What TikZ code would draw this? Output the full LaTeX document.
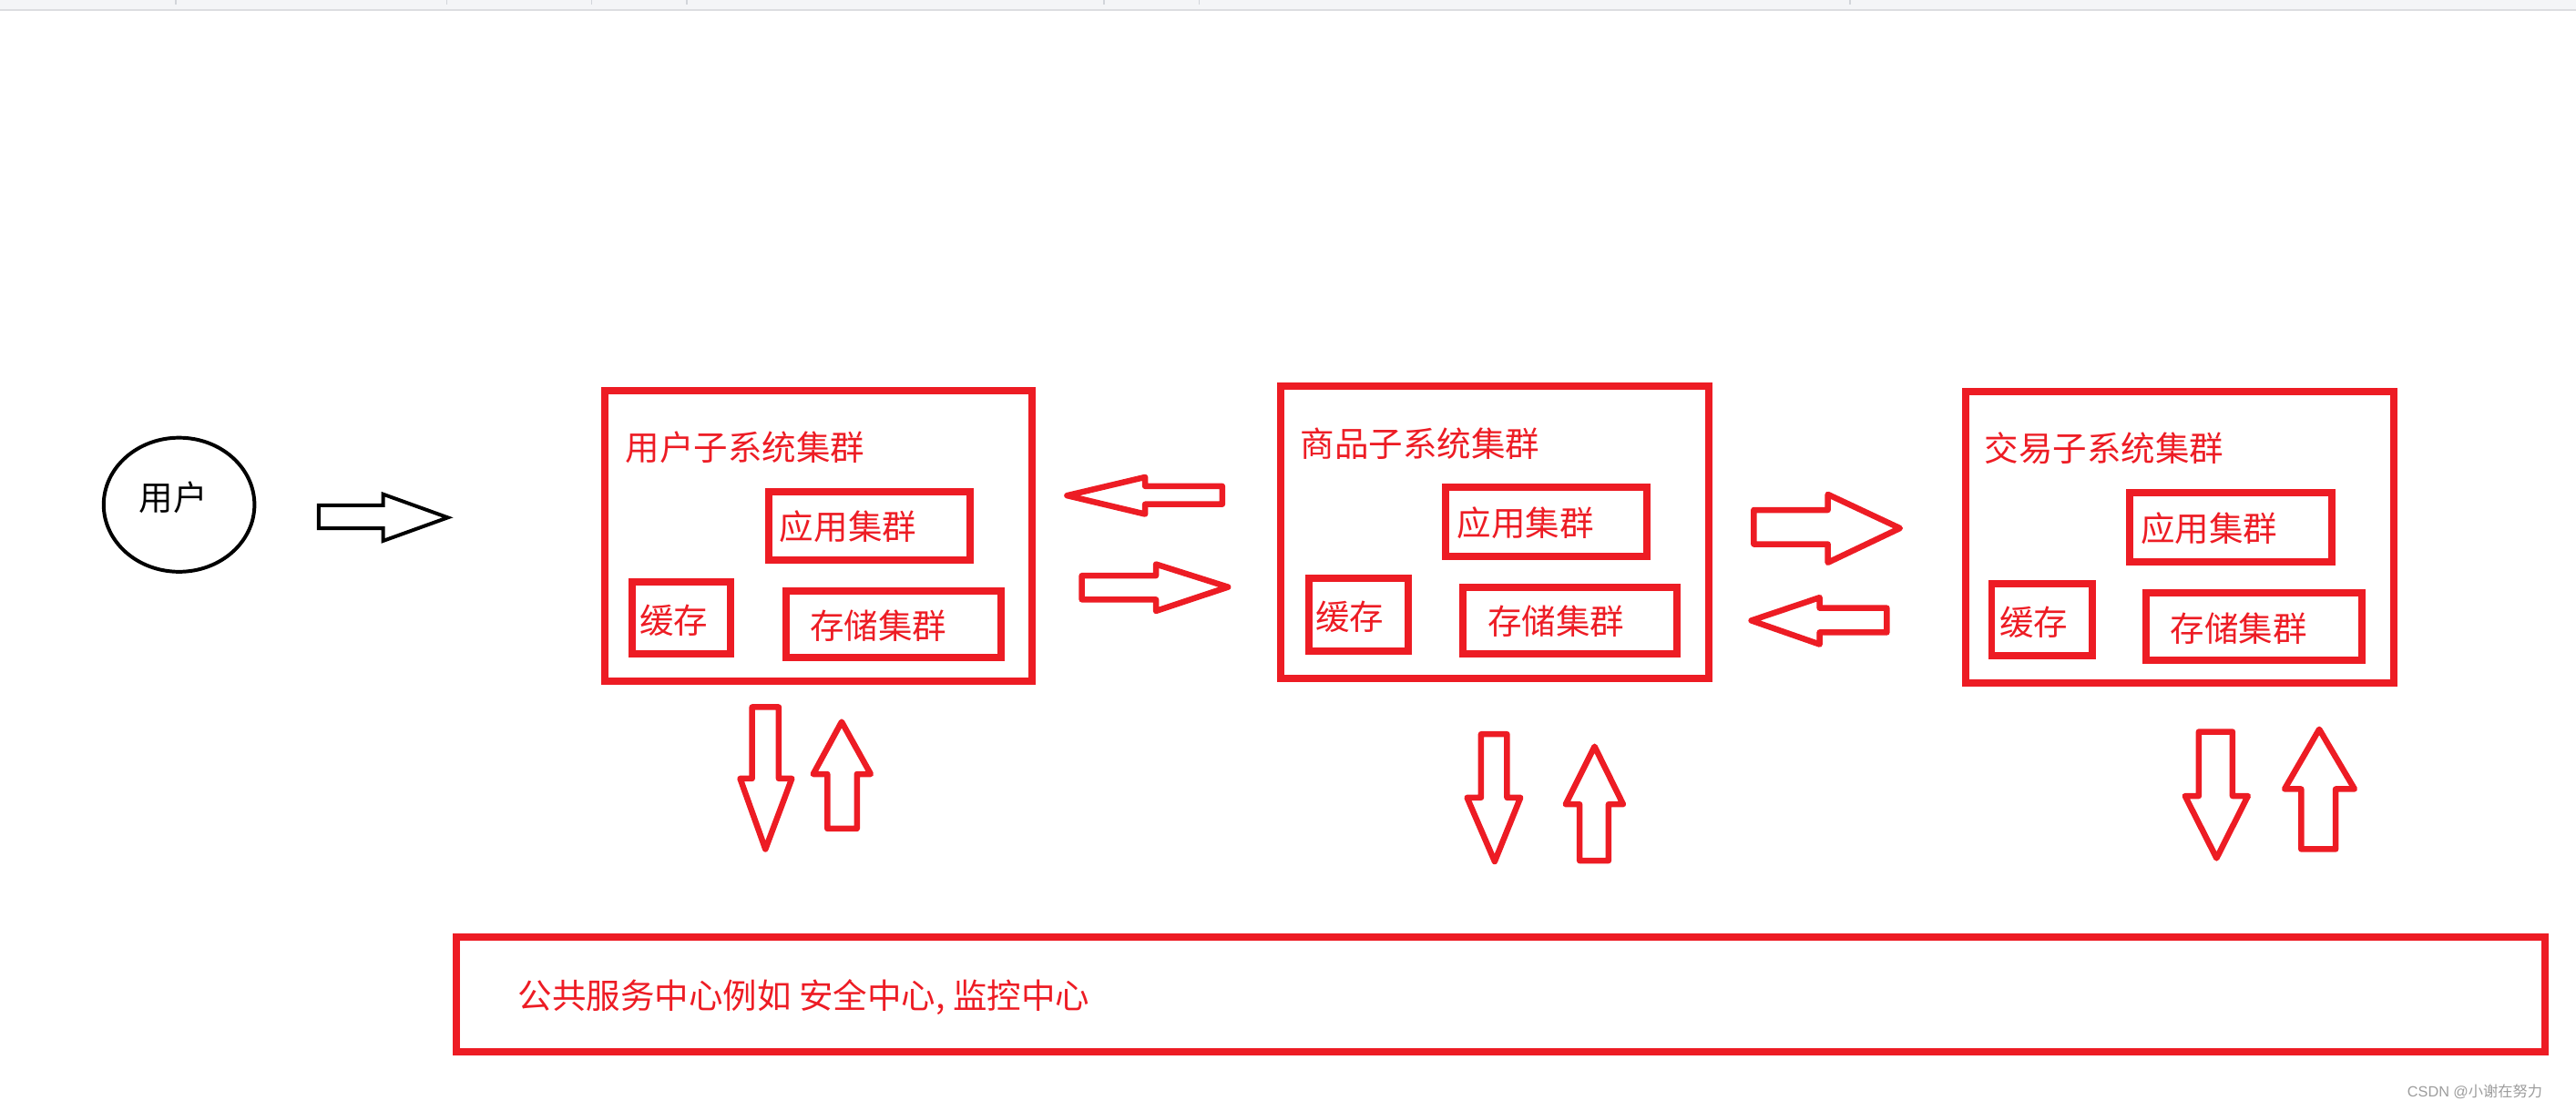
\documentclass[tikz,border=0pt]{standalone}
\usepackage{fontspec}
\setmainfont{Noto Sans CJK SC}
\newfontfamily\wmfont{Liberation Sans}
\usetikzlibrary{fit,shapes.geometric}
\definecolor{pred}{HTML}{ED1C24}
\definecolor{barbg}{HTML}{F4F5F7}
\definecolor{barline}{HTML}{DCDDE0}
\definecolor{barsep}{HTML}{D2D5DA}
\definecolor{wmark}{HTML}{9C9C9C}
\tikzset{
  redbox/.style={draw=pred, line width=2.2pt, inner sep=0pt},
  lbl/.style={text=pred, font=\fontsize{10.4pt}{12pt}\selectfont, inner sep=0pt, anchor=west},
  redarrow/.style={draw=pred, line width=1.8pt, line join=round},
  blackarrow/.style={draw=black, line width=1.1pt, line join=miter},
}
\begin{document}
\begin{tikzpicture}[x=0.5pt, y=-0.5pt]
\useasboundingbox (0,0) rectangle (1568,676);
% top bar
\fill[barbg] (0,0) rectangle (1568,6);
\draw[barline, line width=0.6pt] (0,6) -- (1568,6);
\foreach \sx in {107,272,360,418,672,730,1126}
  \draw[barsep, line width=0.4pt] (\sx,0) -- (\sx,2.5);

% user ellipse
\node[draw=black, line width=1.1pt, ellipse, minimum width=45.9pt, minimum height=40.8pt, inner sep=0pt] (user) at (109,307.3) {};
\node[inner sep=0pt, anchor=west, font=\fontsize{10.4pt}{12pt}\selectfont] (usertxt) at (84.4,303.1) {用户};
\draw[blackarrow] (194,307.7) -- (233.2,307.7) -- (233.2,300.9) -- (272.6,315.1) -- (233.2,329.3) -- (233.2,321.6) -- (194,321.6) -- cycle;

% subsystem 1
\node[redbox, fit={(368.4,237.9) (628.4,414.5)}] (sys1) {};
\node[lbl] (sys1t) at (380.4,272.3) {用户子系统集群};
\node[redbox, fit={(468.2,299.4) (590.4,340.8)}] (sys1app) {};
\node[lbl] (sys1appt) at (474.2,320.7) {应用集群};
\node[redbox, fit={(384.6,354.3) (444.8,397.9)}] (sys1cache) {};
\node[lbl] (sys1cachet) at (389,378) {缓存};
\node[redbox, fit={(478.6,359.8) (609.2,400.1)}] (sys1db) {};
\node[lbl] (sys1dbt) at (492.6,381) {存储集群};

% subsystem 2
\node[redbox, fit={(779.8,235.2) (1040.1,412.8)}] (sys2) {};
\node[lbl] (sys2t) at (791.2,270.3) {商品子系统集群};
\node[redbox, fit={(880.1,296.8) (1002.6,339)}] (sys2app) {};
\node[lbl] (sys2appt) at (886.5,318.3) {应用集群};
\node[redbox, fit={(796.6,352.1) (857.1,396.2)}] (sys2cache) {};
\node[lbl] (sys2cachet) at (800.4,375.4) {缓存};
\node[redbox, fit={(890.2,357.6) (1020.5,398.2)}] (sys2db) {};
\node[lbl] (sys2dbt) at (905.1,378.4) {存储集群};

% subsystem 3
\node[redbox, fit={(1196.5,238.3) (1456.9,415.9)}] (sys3) {};
\node[lbl] (sys3t) at (1207.5,272.9) {交易子系统集群};
\node[redbox, fit={(1296.1,300.1) (1419.2,342.2)}] (sys3app) {};
\node[lbl] (sys3appt) at (1302.8,321.7) {应用集群};
\node[redbox, fit={(1212.3,355.3) (1273.7,399.4)}] (sys3cache) {};
\node[lbl] (sys3cachet) at (1216.8,378.9) {缓存};
\node[redbox, fit={(1306.2,360.9) (1437.5,401.9)}] (sys3db) {};
\node[lbl] (sys3dbt) at (1320.8,382.6) {存储集群};

% common services
\node[redbox, fit={(277.8,570.7) (1549,640.6)}] (common) {};
\node[lbl] (commont) at (315,607) {公共服务中心例如 安全中心, 监控中心};

% horizontal arrows between 1 and 2
\draw[redarrow] (744,296) -- (697,296) -- (697,290.5) -- (649.5,301.7) -- (697,313) -- (697,307) -- (744,307) -- cycle;
\draw[redarrow] (658.5,350.5) -- (703.6,350.5) -- (703.6,343.5) -- (747.5,357.4) -- (703.6,372) -- (703.6,365) -- (658.5,365) -- cycle;
% horizontal arrows between 2 and 3
\draw[redarrow] (1067.5,310.5) -- (1112.6,310.5) -- (1112.6,301) -- (1156.5,321.6) -- (1112.6,342.5) -- (1112.6,331.3) -- (1067.5,331.3) -- cycle;
\draw[redarrow] (1148.5,370.2) -- (1107.6,370.2) -- (1107.6,363.8) -- (1066,377.8) -- (1107.6,392.3) -- (1107.6,385) -- (1148.5,385) -- cycle;

% vertical arrows under 1
\draw[redarrow] (457.8,430.5) -- (474,430.5) -- (474,474) -- (482,474) -- (465.9,517) -- (450.5,474) -- (457.8,474) -- cycle;
\draw[redarrow] (503.6,504.5) -- (521.6,504.5) -- (521.6,471.3) -- (530,471.3) -- (512.3,439.5) -- (495,471.3) -- (503.6,471.3) -- cycle;
% vertical arrows under 2
\draw[redarrow] (901.5,447) -- (917.3,447) -- (917.3,485.6) -- (925.5,485.6) -- (909.8,524.5) -- (893,485.6) -- (901.5,485.6) -- cycle;
\draw[redarrow] (961.5,524) -- (979.1,524) -- (979.1,489.7) -- (988,489.7) -- (970.6,454.5) -- (953,489.7) -- (961.5,489.7) -- cycle;
% vertical arrows under 3
\draw[redarrow] (1338.4,445.5) -- (1358.9,445.5) -- (1358.9,484.6) -- (1368.3,484.6) -- (1349.2,522.5) -- (1330,484.6) -- (1338.4,484.6) -- cycle;
\draw[redarrow] (1400.7,517) -- (1421.7,517) -- (1421.7,480.4) -- (1433.2,480.4) -- (1411.7,444) -- (1390.6,480.4) -- (1400.7,480.4) -- cycle;

% watermark
\node[inner sep=0pt, anchor=west, text=wmark, font=\fontsize{4.5pt}{5pt}\selectfont] (wm) at (1465,664.5) {{\wmfont CSDN @}小谢在努力};
\end{tikzpicture}
\end{document}
